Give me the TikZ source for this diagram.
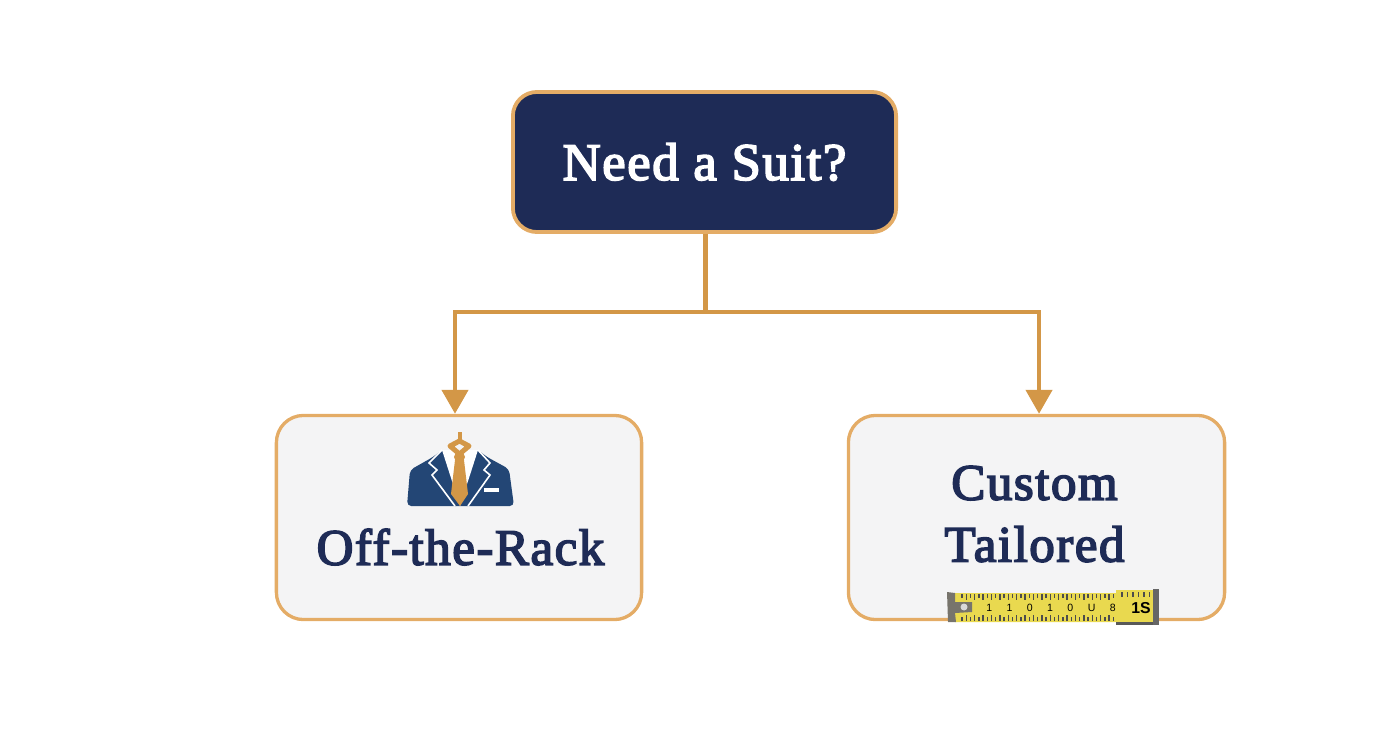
\documentclass[tikz,border=0pt]{standalone}
\usepackage{fontspec}
\setmainfont{Liberation Serif}
\newfontfamily\labelfont[FakeBold=3.2,LetterSpace=3]{Liberation Serif}
\newfontfamily\tapefont{Liberation Sans}
\usetikzlibrary{arrows.meta}
\definecolor{navy}{HTML}{1E2B56}
\definecolor{suitblue}{HTML}{234675}
\definecolor{brass}{HTML}{D39747}
\definecolor{edge}{HTML}{E4AC66}
\definecolor{paper}{HTML}{F4F4F5}
\definecolor{tape}{HTML}{E9D94F}
\definecolor{hook}{HTML}{77746C}

\begin{document}
\begin{tikzpicture}[x=0.01cm,y=-0.01cm,
  topbox/.style={draw=edge,line width=0.038cm,fill=navy,rounded corners=0.24cm,
    minimum width=3.83cm,minimum height=1.4cm,text=white,
    font=\fontsize{15}{18}\labelfont},
  choicebox/.style={draw=edge,line width=0.033cm,fill=paper,rounded corners=0.27cm,
    minimum height=2.04cm},
  choicetext/.style={text=navy,align=center,font=\fontsize{14.5}{17.6}\labelfont},
  link/.style={draw=brass,line width=0.045cm},
  arrowlink/.style={link,-{Triangle[width=0.26cm,length=0.24cm]}},
  tick/.style={draw=black!70,line width=0.014cm}]
  \useasboundingbox (0,0) rectangle (1392,752);
  \node[topbox] (need) at (704.5,162) {Need a Suit?};
  \node[choicebox,minimum width=3.65cm] (rack) at (459,517.5) {};
  \node[choicetext] (racktext) at (460.5,547) {Off-the-Rack};
  \node[choicebox,minimum width=3.76cm] (custom) at (1036.5,517.5) {};
  \node[choicetext] (customtext) at (1034.5,514) {Custom\\Tailored};
  \coordinate (bus) at (705.5,312);
  \coordinate (busleft) at (455,312);
  \coordinate (busright) at (1039,312);
  \draw[link] (need.south -| bus) -- (bus);
  \draw[arrowlink] (bus) -- (busleft) -- (busleft |- rack.north);
  \draw[arrowlink] (bus) -- (busright) -- (busright |- custom.north);

  \fill[suitblue,rounded corners=1.2pt] (407,506) -- (410,470) -- (433,457) -- (442,450)
    -- (478,450) -- (487,457) -- (509,469) -- (514,506) -- cycle;
  \fill[white] (442,450) -- (460,506) -- (478,450) -- cycle;
  \draw[white,line width=0.016cm] (442,450) -- (429,463) -- (437,470) -- (432,475) -- (455,506);
  \draw[white,line width=0.016cm] (478,450) -- (490,463) -- (484,470) -- (490,475) -- (468,506);
  \fill[white] (484,488) rectangle (499,491.5);
  \fill[brass] (458,432) rectangle (461.5,441);
  \draw[brass,line width=0.05cm,line join=round] (459.5,441) -- (450,446) -- (459.5,454) -- (469,446) -- cycle;
  \fill[brass] (459.5,457) circle (5.5);
  \fill[brass] (455,460) -- (464,460) -- (468,494) -- (460,506) -- (451,494) -- cycle;

  \fill[tape] (955,593) -- (1116,593) -- (1116,590) -- (1158,590) -- (1158,622) -- (955,622) -- cycle;
  \fill[hook] (947,592) -- (955,593) -- (955,602) -- (972,602) -- (972,612) -- (955,613) -- (956,622) -- (948,622) -- cycle;
  \fill[black!15] (964,607) circle (3.5);
  \fill[black!65] (1116,622) rectangle (1159,625);
  \fill[black!60] (1153,589) rectangle (1159,625);
  \foreach \i in {0,...,36} {
    \draw[tick] (962+\i*4.2,594) -- (962+\i*4.2,{598+mod(\i,2)*2});
    \draw[tick] (962+\i*4.2,621) -- (962+\i*4.2,{617-mod(\i,2)*2});
  }
  \foreach \i in {0,...,5} {
    \draw[tick] (1122+\i*5.5,592) -- (1122+\i*5.5,597);
  }
  \node[inner sep=0pt,font=\fontsize{3}{3}\tapefont,text=black] (tapedigits) at (1051,608)
    {1\hspace{4.1pt}1\hspace{4.1pt}0\hspace{4.1pt}1\hspace{4.1pt}0\hspace{4.1pt}U\hspace{4.1pt}8};
  \node[inner sep=0pt,font=\fontsize{4.5}{4.5}\tapefont\bfseries,text=black] (tapeend) at (1141,608) {1S};
\end{tikzpicture}
\end{document}
